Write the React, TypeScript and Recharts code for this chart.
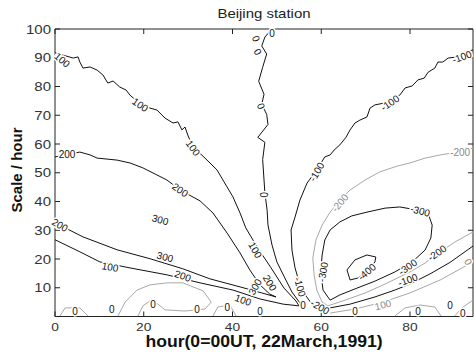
import React from 'react';
import { ComposedChart, Line, Scatter, XAxis, YAxis, ReferenceArea, ReferenceLine } from 'recharts';

const xTicks = [0, 20, 40, 60, 80];
const yTicks = [10, 20, 30, 40, 50, 60, 70, 80, 90, 100];
const xMax = 94.2;
const yMax = 100;

// contour lines as [hour, scale] pairs
const c100Left: [number, number][] = [
  [0, 91.7], [4.1, 89.9], [5.2, 90.3], [5.6, 88.5], [6.3, 86.4], [7.9, 86.8], [9.5, 85.7],
  [10.8, 84.0], [11.9, 81.2], [13.1, 81.9], [14.6, 79.8], [16.0, 78.8], [16.9, 77.0],
  [19.2, 73.9], [21.4, 72.5], [23.0, 71.8], [24.8, 69.0], [26.6, 67.3], [27.7, 67.7],
  [28.6, 64.9], [29.3, 65.9], [30.0, 62.8], [31.1, 59.0], [33.8, 55.1], [36.5, 51.0],
  [40.1, 41.6], [41.7, 36.0], [43.0, 30.8], [45.7, 23.8], [48.7, 16.9], [51.6, 9.9],
  [54.3, 5.4], [55.0, 3.7], [51.4, 4.3], [46.2, 6.1], [40.1, 9.2], [32.7, 11.7],
  [25.2, 14.5], [16.9, 16.9], [10.1, 19.0], [5.6, 22.5], [0, 26.7],
];

const c200Left: [number, number][] = [
  [0, 55.5], [2.3, 56.2], [5.6, 57.2], [7.9, 56.2], [9.5, 55.1], [14.0, 54.4], [16.9, 53.4],
  [19.8, 51.7], [25.2, 47.5], [28.2, 44.0], [32.7, 40.2], [35.6, 36.0], [38.8, 29.0],
  [41.7, 22.1], [43.9, 16.2], [46.2, 11.0], [48.4, 7.8], [49.8, 6.8], [46.6, 8.2],
  [41.7, 10.3], [34.9, 13.1], [28.8, 16.6], [21.4, 20.1], [14.0, 23.2], [6.3, 27.7], [0, 32.6],
];

const c0Mid: [number, number][] = [
  [48.9, 100], [47.3, 97.2], [46.6, 94.1], [47.7, 91.3], [46.8, 86.7], [45.9, 81.8],
  [47.1, 77.3], [46.6, 73.8], [47.7, 70.3], [48.0, 66.8], [45.7, 62.3], [47.3, 60.6],
  [46.8, 54.6], [47.3, 43.0], [47.8, 37.0], [48.0, 31.8], [48.9, 24.9], [50.0, 19.0],
  [51.8, 13.4], [53.4, 8.5], [55.2, 4.7], [55.7, 2.6],
];

const cM100: [number, number][] = [
  [94.2, 92.7], [92.4, 92.0], [90.8, 90.3], [88.6, 89.9], [87.4, 88.5], [86.3, 88.5],
  [85.6, 86.4], [84.1, 85.0], [83.2, 82.9], [81.8, 82.3], [80.5, 80.2], [78.9, 79.5],
  [77.7, 77.0], [75.9, 75.3], [74.4, 74.3], [72.1, 73.6], [71.0, 72.5], [70.3, 69.4],
  [68.7, 68.3], [67.6, 67.3], [66.5, 64.9], [65.6, 62.4], [64.2, 59.7], [62.9, 57.9],
  [62.0, 56.2], [60.8, 55.5], [59.0, 51.0], [56.8, 46.4], [55.2, 40.5], [54.1, 34.6],
  [53.2, 30.1], [53.4, 23.1], [54.1, 16.9], [55.2, 11.0], [56.6, 7.1], [57.9, 4.3],
  [59.3, 2.3], [62.0, 3.0], [66.5, 4.3], [72.1, 6.8], [76.6, 9.2], [80.0, 11.3],
  [84.5, 14.8], [89.0, 18.8], [94.2, 24.5],
];

const cM200: [number, number][] = [
  [94.2, 58.6], [90.8, 57.2], [86.8, 56.2], [83.4, 55.1], [80.0, 53.4], [77.1, 52.3],
  [73.2, 50.3], [69.9, 47.5], [66.5, 44.0], [64.2, 40.5], [62.0, 36.3], [60.2, 31.8],
  [58.8, 26.6], [58.1, 20.3], [58.4, 14.4], [59.0, 9.2], [60.2, 5.0], [61.5, 3.7],
  [65.4, 5.7], [69.9, 8.2], [74.4, 11.3], [80.0, 15.5], [83.4, 18.6], [86.1, 21.7],
  [90.1, 25.9], [94.2, 29.4],
];

const cM300: [number, number][] = [
  [62.0, 5.7], [60.4, 9.2], [59.9, 15.5], [60.2, 21.4], [60.8, 26.6], [62.0, 30.1],
  [64.2, 32.9], [66.9, 35.0], [70.3, 36.3], [74.4, 37.7], [77.7, 38.1], [81.8, 37.0],
  [84.1, 35.7], [85.0, 31.8], [84.7, 27.3], [83.4, 23.1], [80.5, 19.0], [76.6, 15.5],
  [72.1, 12.3], [67.6, 9.6], [64.2, 7.5], [62.0, 5.7],
];

const cM400: [number, number][] = [
  [65.8, 16.2], [66.5, 12.7], [68.3, 13.4], [70.3, 15.5], [72.1, 19.0], [72.3, 20.7],
  [70.3, 21.4], [67.6, 19.7], [65.8, 16.2],
];

// faint low-level contours near the bottom
const g0Arch: [number, number][] = [
  [14.2, 0.2], [15.8, 5.0], [18.5, 9.2], [21.4, 11.0], [25.2, 11.7], [28.8, 11.7],
  [33.4, 8.9], [35.2, 5.0], [33.8, 2.6], [29.3, 1.9], [24.8, 2.3], [23.2, 4.3],
  [21.4, 5.4], [19.8, 3.7], [18.7, 0.2],
];
const g0Small: [number, number][] = [[1.1, 0.2], [2.3, 3.0], [5.6, 3.0], [7.4, 0.2]];
const g0Small2: [number, number][] = [[35.6, 0.2], [36.7, 3.3], [39.4, 4.0], [40.8, 0.2]];
const g0Right: [number, number][] = [
  [62.0, 1.2], [67.6, 2.6], [73.9, 5.0], [80.0, 8.2], [86.8, 12.7], [94.2, 19.0],
];
const g100Arch: [number, number][] = [[76.6, 0.2], [78.9, 3.0], [82.3, 4.0], [85.6, 3.3], [87.0, 0.2]];
const g0Edge: [number, number][] = [[90.1, 0.2], [91.7, 3.0], [94.2, 5.7]];

const blackLines = [c100Left, c200Left, c0Mid, cM100, cM300, cM400];
const grayLines = [cM200, g0Arch, g0Small, g0Small2, g0Right, g100Arch, g0Edge];

// contour labels: hour, scale, text
const labels: [number, number, string][] = [
  [1.6, 89.2, '100'], [19.2, 73.6, '100'], [31.1, 58.6, '100'], [2.7, 56.2, '200'],
  [28.2, 44.0, '200'], [23.7, 33.6, '300'], [24.8, 20.7, '300'], [1.1, 31.8, '200'],
  [12.4, 17.2, '100'], [28.8, 14.1, '200'], [42.4, 5.7, '100'], [45.1, 23.1, '100'],
  [45.1, 10.3, '300'], [48.4, 11.7, '200'], [46.9, 42.3, '0'], [55.2, 10.3, '-100'],
  [55.9, 4.0, '0'], [59.7, 3.3, '-200'], [60.4, 15.5, '-300'], [59.0, 50.3, '-100'],
  [64.2, 39.5, '-200'], [75.5, 74.3, '-100'], [91.7, 90.3, '-100'], [91.3, 57.2, '-200'],
  [82.3, 36.7, '-300'], [70.3, 15.5, '-400'], [79.5, 17.2, '-300'], [86.1, 22.1, '-200'],
  [79.5, 12.7, '-100'], [73.9, 4.0, '100'], [93.1, 19.0, '0'],
  [48.9, 98.6, '0'], [45.3, 96.6, '0'], [45.7, 92.0, '0'], [46.4, 73.2, '0'],
  [4.5, 1.6, '0'], [12.8, 2.6, '0'], [22.1, 4.3, '0'], [32.0, 2.3, '0'], [38.8, 3.0, '0'],
  [46.2, 1.9, '0'], [67.6, 1.6, '0'], [81.8, 1.6, '0'], [89.0, 4.0, '0'], [91.9, 1.2, '0'],
];
const labelAngles = [
  40, 35, 55, 0, 35, 15, 15, 30, 10, 20, 20, 60, -60, 60, 90, 75, 0, 30, -80, -60,
  -50, -35, -20, 0, 15, -40, -35, -35, -20, -15, 60,
  0, 70, 60, 70, 0, 0, 0, 0, 0, 0, 0, 0, 0, 0,
];
const grayLabelIdx = [20, 23, 29, 30];

const font = '"Liberation Sans", Arial, sans-serif';
const axisColor = '#222';

const toPts = (arr: [number, number][]) => arr.map(([x, y]) => ({ x, y }));

const labelData = labels.map(([x, y, t], i) => ({
  x, y, t, a: labelAngles[i], gray: grayLabelIdx.includes(i),
}));
const xTickData = xTicks.map((t) => ({ x: t, y: 0 }));

// hour tick text, drawn under the bottom edge of the frame
const HourTick = (p: any) => (
  <text transform={`translate(${p.cx},${p.cy + 14}) scale(1.2,1)`} textAnchor="middle"
    fontSize={11.5} fill="#333" fontFamily={font}>{p.payload.x}</text>
);
const LeftTick = ({ x, y, payload }: any) => (
  <text transform={`translate(${x - 4},${y + 4.5}) scale(1.25,1)`} textAnchor="end"
    fontSize={12} fill="#333" fontFamily={font}>{payload.value}</text>
);

const ContourLabel = (p: any) => {
  const d = p.payload;
  return (
    <text transform={`translate(${p.cx},${p.cy}) rotate(${d.a})`} textAnchor="middle" dy="0.35em"
      fontSize={10} fontFamily={font} fill={d.gray ? '#888' : '#111'}
      stroke="#fff" strokeWidth={3} paintOrder="stroke">{d.t}</text>
  );
};

export default function App() {
  return (
    <div style={{ position: 'absolute', left: 0, top: 0, width: 474, height: 354, background: '#fff' }}>
      <div style={{ position: 'absolute', left: 0, width: 528, top: 6, textAlign: 'center', fontFamily: font, fontSize: 13, color: '#222', transform: 'scaleX(1.15)', transformOrigin: '264px 0' }}>
        Beijing station
      </div>
      <ComposedChart width={474} height={354} margin={{ top: 29, right: 1, bottom: 37.5, left: 0 }}>
        <XAxis dataKey="x" type="number" domain={[0, xMax]} ticks={xTicks} height={0}
          tick={false} tickLine={false} axisLine={false} />
        <YAxis dataKey="y" type="number" domain={[0, yMax]} ticks={yTicks} width={55} interval={0}
          tickSize={0} tickMargin={0} tickLine={false} tick={<LeftTick />}
          axisLine={false} />
        <ReferenceArea x1={0} x2={xMax} y1={0} y2={yMax} fill="none" stroke={axisColor}
          strokeWidth={1} fillOpacity={0} ifOverflow="visible" />
        {xTicks.map((t) => (
          <ReferenceLine key={'tt' + t} segment={[{ x: t, y: yMax }, { x: t, y: yMax - 1.75 }]}
            stroke={axisColor} ifOverflow="visible" />
        ))}
        {xTicks.map((t) => (
          <ReferenceLine key={'bt' + t} segment={[{ x: t, y: 0 }, { x: t, y: 1.75 }]}
            stroke={axisColor} ifOverflow="visible" />
        ))}
        {yTicks.map((t) => (
          <ReferenceLine key={'rt' + t} segment={[{ x: xMax, y: t }, { x: xMax - 1.15, y: t }]}
            stroke={axisColor} ifOverflow="visible" />
        ))}
        {yTicks.map((t) => (
          <ReferenceLine key={'lt' + t} segment={[{ x: 0, y: t }, { x: 1.15, y: t }]}
            stroke={axisColor} ifOverflow="visible" />
        ))}
        {grayLines.map((arr, i) => (
          <Line key={'g' + i} data={toPts(arr)} dataKey="y" type="linear" stroke="#a8a8a8"
            strokeWidth={1} dot={false} activeDot={false} isAnimationActive={false} />
        ))}
        {blackLines.map((arr, i) => (
          <Line key={'b' + i} data={toPts(arr)} dataKey="y" type="linear" stroke="#111"
            strokeWidth={1} dot={false} activeDot={false} isAnimationActive={false} />
        ))}
        <Scatter data={labelData} dataKey="y" shape={ContourLabel} isAnimationActive={false} />
        <Scatter data={xTickData} dataKey="y" shape={HourTick} isAnimationActive={false} />
      </ComposedChart>
      <div style={{ position: 'absolute', left: 0, width: 528, top: 333, textAlign: 'center', fontFamily: font, fontSize: 16, fontWeight: 'bold', color: '#111', transform: 'scaleX(1.1)', transformOrigin: '264px 0' }}>
        hour(0=00UT, 22March,1991)
      </div>
      <div style={{ position: 'absolute', left: 16, top: 170, fontFamily: font, fontSize: 15, fontWeight: 'bold', color: '#111', whiteSpace: 'nowrap', transform: 'translate(-50%,-50%) rotate(-90deg)' }}>
        Scale / hour
      </div>
    </div>
  );
}
